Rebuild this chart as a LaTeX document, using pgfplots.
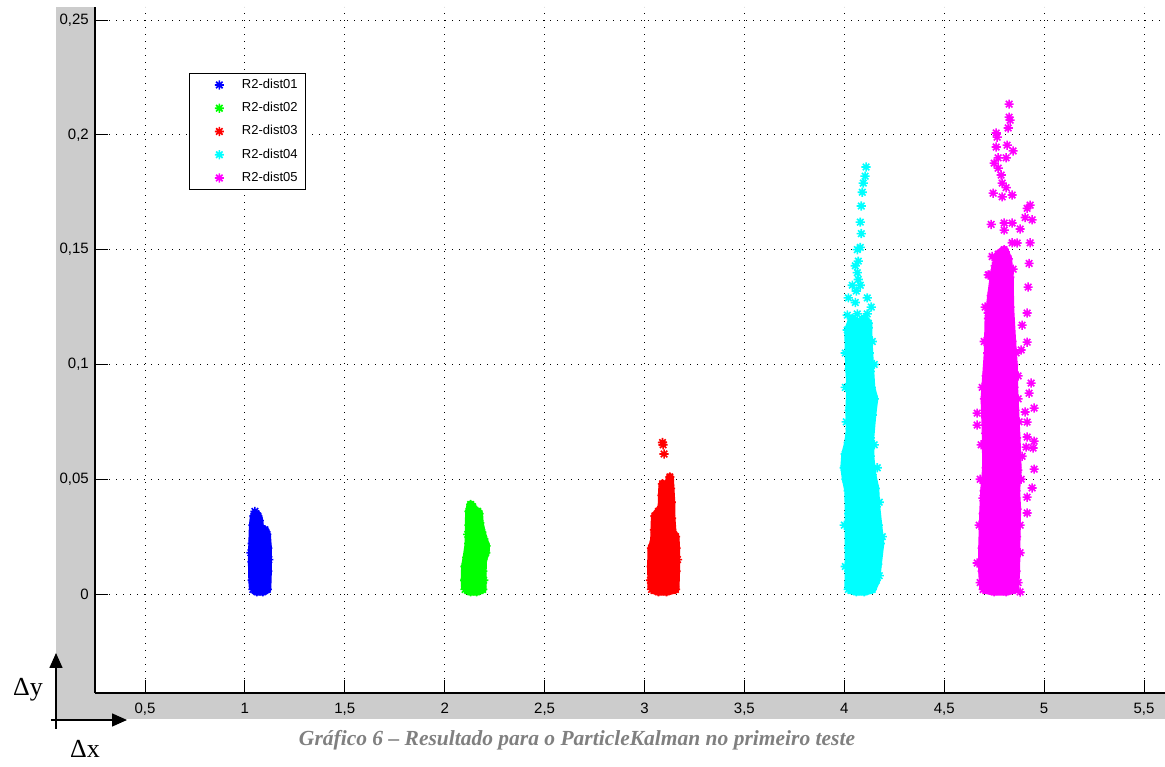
\documentclass[border=0pt]{standalone}
\usepackage{fontspec}
\setmainfont{Liberation Serif}
\newfontfamily\sansf{Liberation Sans}
\usepackage{pgfplots}
\pgfplotsset{compat=1.18}
\usetikzlibrary{arrows.meta}
\pgfdeclareplotmark{mstar}{%
 \pgfpathmoveto{\pgfqpoint{-\pgfplotmarksize}{0pt}}\pgfpathlineto{\pgfqpoint{\pgfplotmarksize}{0pt}}%
 \pgfpathmoveto{\pgfqpoint{0pt}{-\pgfplotmarksize}}\pgfpathlineto{\pgfqpoint{0pt}{\pgfplotmarksize}}%
 \pgfpathmoveto{\pgfqpoint{-.707\pgfplotmarksize}{-.707\pgfplotmarksize}}\pgfpathlineto{\pgfqpoint{.707\pgfplotmarksize}{.707\pgfplotmarksize}}%
 \pgfpathmoveto{\pgfqpoint{-.707\pgfplotmarksize}{.707\pgfplotmarksize}}\pgfpathlineto{\pgfqpoint{.707\pgfplotmarksize}{-.707\pgfplotmarksize}}%
 \pgfusepathqstroke}
\definecolor{capgray}{RGB}{128,128,128}
\definecolor{mblue}{RGB}{0,0,255}
\definecolor{mgreen}{RGB}{0,255,0}
\definecolor{mred}{RGB}{255,0,0}
\definecolor{mcyan}{RGB}{0,255,255}
\definecolor{mmag}{RGB}{255,0,255}
\begin{document}
\begin{tikzpicture}[x=1pt,y=1pt]
\useasboundingbox (0,0) rectangle (1165,767);
\fill[black!20] (56,48) rectangle (1165,760);
\begin{axis}[
  at={(95pt,74pt)}, anchor=south west,
  scale only axis, width=1070pt, height=686pt,
  xmin=0.2497, xmax=5.605, ymin=-0.0431, ymax=0.2557,
  axis x line*=bottom, axis y line*=left,
  axis line style={black, line width=1.2pt},
  axis background/.style={fill=white},
  xtick={0.5,1,1.5,2,2.5,3,3.5,4,4.5,5,5.5},
  xticklabels={{0,5},1,{1,5},2,{2,5},3,{3,5},4,{4,5},5,{5,5}},
  ytick={0,0.05,0.1,0.15,0.2,0.25},
  yticklabels={0,{0,05},{0,1},{0,15},{0,2},{0,25}},
  tick align=inside, major tick length=13pt,
  tick style={black, line width=1pt},
  xticklabel style={anchor=north, inner sep=0pt, yshift=-10pt, font=\sansf\fontsize{15}{18}\selectfont},
  yticklabel style={anchor=east, inner sep=0pt, xshift=-6pt, font=\sansf\fontsize{15}{18}\selectfont},
  grid=major,
  grid style={black, line width=1pt, dash pattern=on 1pt off 6pt},
  legend style={at={(0.0879,0.9038)}, anchor=north west, draw=black, line width=1pt, fill=white,
    font=\sansf\fontsize{13}{15}\selectfont, inner xsep=8pt, inner ysep=5pt, row sep=10.25pt,
    column sep=18pt, nodes={inner sep=0pt, text height=10pt, text depth=3pt}},
  legend cell align=left,
  legend image code/.code={\path (0pt,0pt); \draw[#1] plot coordinates {(21pt,0pt)};},
  every axis plot/.append style={mark size=4.6pt, line width=1.6pt},
]
% ---- R2-dist01 ----
\addplot[forget plot, fill=mblue, draw=mblue, line width=8pt, line join=round] coordinates {
(1.04,0.002) (1.06,0.001) (1.09,0.001) (1.112,0.002) (1.115,0.010) (1.115,0.020) (1.11,0.026) (1.10,0.028) (1.088,0.027) (1.078,0.027) (1.072,0.032) (1.065,0.034) (1.055,0.035) (1.045,0.034) (1.04,0.030) (1.037,0.022) (1.035,0.014) (1.037,0.006) (1.04,0.002)};
\addplot[only marks, mark=mstar, color=mblue] coordinates {
(1.04,0.002) (1.06,0.001) (1.09,0.001) (1.112,0.002) (1.115,0.010) (1.115,0.020) (1.11,0.026) (1.10,0.028) (1.088,0.027) (1.078,0.027) (1.072,0.032) (1.065,0.034) (1.055,0.035) (1.045,0.034) (1.04,0.030) (1.037,0.022) (1.035,0.014) (1.037,0.006)
(1.05,0.020) (1.08,0.010) (1.10,0.018) (1.06,0.008) (1.12,0.015) (1.03,0.018) (1.05,0.036)};
\addlegendentry{R2-dist01}
% ---- R2-dist02 ----
\addplot[forget plot, fill=mgreen, draw=mgreen, line width=8pt, line join=round] coordinates {
(2.102,0.002) (2.13,0.001) (2.16,0.001) (2.19,0.002) (2.19,0.010) (2.192,0.015) (2.205,0.018) (2.207,0.021) (2.195,0.024) (2.185,0.027) (2.175,0.031) (2.172,0.035) (2.165,0.036) (2.157,0.033) (2.148,0.035) (2.14,0.038) (2.13,0.039) (2.122,0.036) (2.121,0.030) (2.12,0.022) (2.11,0.016) (2.102,0.012) (2.10,0.006) (2.102,0.002)};
\addplot[only marks, mark=mstar, color=mgreen] coordinates {
(2.102,0.002) (2.13,0.001) (2.16,0.001) (2.19,0.002) (2.19,0.010) (2.192,0.015) (2.205,0.018) (2.207,0.021) (2.195,0.024) (2.185,0.027) (2.175,0.031) (2.172,0.035) (2.165,0.036) (2.157,0.033) (2.148,0.035) (2.14,0.038) (2.13,0.039) (2.122,0.036) (2.121,0.030) (2.12,0.022) (2.11,0.016) (2.102,0.012) (2.10,0.006)
(2.15,0.02) (2.14,0.01) (2.17,0.015) (2.115,0.026) (2.195,0.006)};
\addlegendentry{R2-dist02}
% ---- R2-dist03 ----
\addplot[forget plot, fill=mred, draw=mred, line width=8pt, line join=round] coordinates {
(3.035,0.002) (3.07,0.001) (3.11,0.001) (3.155,0.002) (3.158,0.010) (3.158,0.020) (3.155,0.025) (3.14,0.027) (3.135,0.033) (3.134,0.040) (3.13,0.046) (3.127,0.051) (3.118,0.047) (3.11,0.044) (3.10,0.046) (3.09,0.048) (3.087,0.043) (3.086,0.038) (3.07,0.036) (3.052,0.034) (3.05,0.028) (3.048,0.023) (3.035,0.020) (3.033,0.012) (3.035,0.002)};
\addplot[only marks, mark=mstar, color=mred] coordinates {
(3.035,0.002) (3.07,0.001) (3.11,0.001) (3.155,0.002) (3.158,0.010) (3.158,0.020) (3.155,0.025) (3.14,0.027) (3.135,0.033) (3.134,0.040) (3.13,0.046) (3.127,0.051) (3.118,0.047) (3.11,0.044) (3.10,0.046) (3.09,0.048) (3.087,0.043) (3.086,0.038) (3.07,0.036) (3.052,0.034) (3.05,0.028) (3.048,0.023) (3.035,0.020) (3.033,0.012)
(3.093,0.065) (3.090,0.066) (3.098,0.061) (3.165,0.015) (3.03,0.006) (3.06,0.03)};
\addlegendentry{R2-dist03}
% ---- R2-dist04 ----
\addplot[forget plot, fill=mcyan, draw=mcyan, line width=8pt, line join=round] coordinates {
(4.02,0.002) (4.06,0.001) (4.10,0.001) (4.14,0.002) (4.16,0.006) (4.168,0.013) (4.18,0.022) (4.17,0.030) (4.16,0.038) (4.155,0.046) (4.14,0.052) (4.13,0.060) (4.13,0.068) (4.14,0.078) (4.15,0.085) (4.135,0.090) (4.13,0.097) (4.125,0.105) (4.12,0.112) (4.12,0.118) (4.10,0.120) (4.07,0.118) (4.04,0.120) (4.02,0.115) (4.022,0.105) (4.025,0.098) (4.03,0.090) (4.025,0.080) (4.028,0.072) (4.02,0.066) (4.005,0.061) (4.0,0.055) (4.008,0.050) (4.02,0.045) (4.022,0.035) (4.022,0.020) (4.022,0.010) (4.02,0.002)};
\addplot[only marks, mark=mstar, color=mcyan] coordinates {
(4.02,0.002) (4.06,0.001) (4.10,0.001) (4.14,0.002) (4.16,0.006) (4.168,0.013) (4.18,0.022) (4.17,0.030) (4.16,0.038) (4.155,0.046) (4.14,0.052) (4.13,0.060) (4.13,0.068) (4.14,0.078) (4.15,0.085) (4.135,0.090) (4.13,0.097) (4.125,0.105) (4.12,0.112) (4.12,0.118) (4.10,0.120) (4.07,0.118) (4.04,0.120) (4.02,0.115) (4.022,0.105) (4.025,0.098) (4.03,0.090) (4.025,0.080) (4.028,0.072) (4.02,0.066) (4.005,0.061) (4.0,0.055) (4.008,0.050) (4.02,0.045) (4.022,0.035) (4.022,0.020) (4.022,0.010)
(4.0,0.030) (4.005,0.012) (4.01,0.075) (4.005,0.090) (4.15,0.065) (4.15,0.100) (4.14,0.110) (4.175,0.040) (4.19,0.025) (4.005,0.105) (4.135,0.125) (4.165,0.055) (4.175,0.008)
(4.109,0.186) (4.104,0.182) (4.095,0.179) (4.09,0.175) (4.085,0.169) (4.08,0.162) (4.085,0.157) (4.065,0.150) (4.08,0.151) (4.07,0.145) (4.055,0.143) (4.065,0.140) (4.07,0.137) (4.04,0.1345) (4.08,0.1345) (4.06,0.132) (4.02,0.129) (4.115,0.129) (4.115,0.122) (4.055,0.127) (4.065,0.122) (4.015,0.1215) (4.12,0.116) (4.015,0.115)};
\addlegendentry{R2-dist04}
% ---- R2-dist05 ----
\addplot[forget plot, fill=mmag, draw=mmag, line width=8pt, line join=round] coordinates {
(4.695,0.002) (4.75,0.001) (4.81,0.001) (4.855,0.002) (4.86,0.010) (4.862,0.025) (4.865,0.037) (4.86,0.045) (4.868,0.054) (4.862,0.068) (4.855,0.080) (4.85,0.090) (4.848,0.100) (4.84,0.110) (4.83,0.125) (4.828,0.138) (4.82,0.146) (4.80,0.150) (4.77,0.148) (4.75,0.140) (4.735,0.130) (4.722,0.120) (4.718,0.105) (4.71,0.095) (4.702,0.085) (4.708,0.070) (4.71,0.055) (4.70,0.045) (4.695,0.035) (4.69,0.020) (4.69,0.010) (4.695,0.002)};
\addplot[only marks, mark=mstar, color=mmag] coordinates {
(4.695,0.002) (4.75,0.001) (4.81,0.001) (4.855,0.002) (4.86,0.010) (4.862,0.025) (4.865,0.037) (4.86,0.045) (4.868,0.054) (4.862,0.068) (4.855,0.080) (4.85,0.090) (4.848,0.100) (4.84,0.110) (4.83,0.125) (4.828,0.138) (4.82,0.146) (4.80,0.150) (4.77,0.148) (4.75,0.140) (4.735,0.130) (4.722,0.120) (4.718,0.105) (4.71,0.095) (4.702,0.085) (4.708,0.070) (4.71,0.055) (4.70,0.045) (4.695,0.035) (4.69,0.020) (4.69,0.010)
(4.88,0.030) (4.885,0.050) (4.89,0.060) (4.875,0.075) (4.87,0.085) (4.87,0.095) (4.86,0.105) (4.675,0.030) (4.68,0.050) (4.685,0.065) (4.69,0.090) (4.70,0.110) (4.705,0.125) (4.74,0.147) (4.68,0.005) (4.87,0.005) (4.88,0.018)
(4.825,0.2134) (4.825,0.2077) (4.83,0.2064) (4.82,0.203) (4.76,0.2008) (4.765,0.199) (4.815,0.1955) (4.845,0.193) (4.76,0.1947) (4.77,0.190) (4.81,0.190) (4.75,0.1877) (4.77,0.1855) (4.785,0.1825) (4.79,0.179) (4.81,0.177) (4.745,0.1746) (4.79,0.173) (4.84,0.1738) (4.93,0.1694) (4.915,0.168) (4.905,0.164) (4.94,0.163) (4.735,0.161) (4.80,0.1616) (4.84,0.1616) (4.80,0.1585) (4.88,0.159) (4.84,0.153) (4.865,0.1529) (4.93,0.153) (4.805,0.149)
(4.755,0.143) (4.72,0.139) (4.845,0.1415) (4.925,0.144) (4.725,0.139) (4.92,0.1337) (4.72,0.1224) (4.915,0.1224) (4.89,0.1171) (4.915,0.1097) (4.885,0.1063) (4.935,0.0919) (4.925,0.0875) (4.95,0.081) (4.905,0.0793) (4.665,0.0788) (4.665,0.0736) (4.915,0.0749) (4.915,0.0684) (4.95,0.0666) (4.945,0.0636) (4.91,0.064) (4.95,0.0544) (4.94,0.0462) (4.915,0.0422) (4.694,0.0418) (4.915,0.0353) (4.665,0.0135) (4.88,0.0009)};
\addlegendentry{R2-dist05}
\end{axis}
\draw[line width=1.5pt, -{Triangle[length=15pt,width=13pt]}] (56,38) -- (56,114);
\draw[line width=1.5pt, -{Triangle[length=15pt,width=13pt]}] (51,47) -- (127,47);
\node[anchor=base, font=\fontsize{26}{30}\selectfont, inner sep=0pt] at (28,71) {Δy};
\node[anchor=base, font=\fontsize{26}{30}\selectfont, inner sep=0pt] at (85,9) {Δx};
\node[anchor=base, font=\fontsize{21.5}{25}\selectfont\bfseries\itshape, text=capgray, inner sep=0pt] at (577,21) {Gráfico 6 – Resultado para o ParticleKalman no primeiro teste};
\end{tikzpicture}
\end{document}
